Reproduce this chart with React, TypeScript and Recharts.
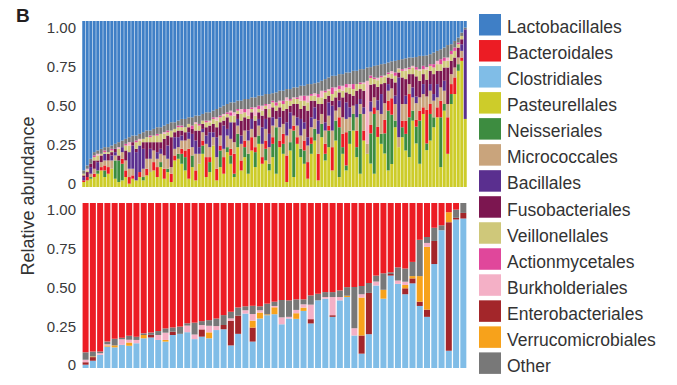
import React from 'react';
import { BarChart, Bar, XAxis, YAxis } from 'recharts';

const FONT = '"Liberation Sans", Arial, Helvetica, sans-serif';

// legend order
const orders = [
  'Lactobacillales', 'Bacteroidales', 'Clostridiales', 'Pasteurellales', 'Neisseriales',
  'Micrococcales', 'Bacillales', 'Fusobacteriales', 'Veillonellales', 'Actionmycetales',
  'Burkholderiales', 'Enterobacteriales', 'Verrucomicrobiales', 'Other',
];

const colors: Record<string, string> = {
  Lactobacillales: '#3f7fc6',
  Bacteroidales: '#ec1c24',
  Clostridiales: '#80bde7',
  Pasteurellales: '#cdcc2a',
  Neisseriales: '#3d8c40',
  Micrococcales: '#c9a47c',
  Bacillales: '#5a2f8f',
  Fusobacteriales: '#7c1650',
  Veillonellales: '#cfc87a',
  Actionmycetales: '#e0479b',
  Burkholderiales: '#f4b0c6',
  Enterobacteriales: '#a3262a',
  Verrucomicrobiales: '#f7a21b',
  Other: '#787878',
};

const yTicks = [0, 0.25, 0.5, 0.75, 1];

// ---- top panel (110 samples) ----
const topPasteurellales = [
  .03, .04, .05, .06, .08, .10, .06, .08, .11, .05,
  .03, .04, .06, .02, .05, .04, .06, .04, .07, .09,
  .10, .06, .12, .05, .09, .03, .16, .17, .14, .10,
  .05, .12, .04, .14, .20, .06, .09, .25, .04, .12,
  .08, .21, .14, .06, .24, .10, .18, .08, .22, .12,
  .26, .14, .16, .10, .18, .08, .24, .20, .03, .22,
  .06, .26, .18, .14, .05, .20, .28, .04, .30, .16,
  .24, .10, .28, .06, .20, .10, .26, .34, .18, .08,
  .28, .20, .14, .08, .30, .26, .20, .10, .14, .36,
  .24, .30, .22, .18, .40, .26, .14, .44, .22, .28,
  .36, .42, .12, .46, .20, .50, .56, .70, .76, .41,
];
const topNeisseriales = [
  0, 0, .01, 0, .02, 0, .04, 0, 0, .11,
  .13, .10, 0, 0, 0, 0, 0, .02, 0, 0,
  0, 0, .03, 0, .02, 0, 0, .03, .06, .08,
  0, .07, 0, 0, .05, 0, .06, 0, 0, .10,
  0, .03, .05, .02, .08, 0, .06, .12, 0, .09,
  .05, 0, .07, .04, .08, .28, 0, .06, 0, .05,
  .28, 0, .05, .08, 0, .06, .07, 0, .08, .04,
  .10, 0, .12, .30, .04, .03, .08, .10, .06, .36,
  0, 0, .18, .36, 0, .06, .12, .36, .30, .04,
  0, .06, .10, .24, .06, .10, .26, 0, .04, .16,
  .06, 0, .30, .04, 0, .06, 0, .04, 0, 0,
];
const topBacteroidales = [
  .01, .02, 0, .02, 0, .02, .03, .04, 0, 0,
  0, .03, .04, .04, .02, 0, .03, 0, .04, 0,
  .05, .06, 0, .06, 0, .05, .03, 0, .03, .04,
  .18, 0, .06, 0, .03, .12, .03, 0, .07, .03,
  .10, 0, .04, .12, 0, .06, .04, 0, .08, .03,
  0, .04, .05, 0, .04, 0, .04, .06, .16, 0,
  .03, .04, 0, .06, .10, .04, 0, .16, 0, .06,
  .03, .14, 0, .06, .08, .20, 0, 0, .10, 0,
  .06, 0, .05, .04, .06, 0, .08, .06, .10, 0,
  0, .04, .08, .14, 0, .04, .06, .04, .20, .06,
  0, .06, .10, 0, .22, .06, .10, 0, .02, 0,
];
const topMicrococcales = [
  0, 0, .02, .03, 0, .03, .03, .04, .05, .03,
  0, .04, .06, .05, .04, 0, 0, .05, .06, .08,
  .07, .05, .05, .08, .06, .04, .04, .04, .05, .06,
  .06, .05, .10, .06, .05, .08, .06, .05, .07, .06,
  .05, .07, .06, .07, .05, .10, .06, .08, .05, .06,
  .06, .08, .07, .10, .07, .05, .08, .06, .12, .08,
  .06, .07, .08, .07, .10, .06, .06, .12, .06, .08,
  .06, .10, .06, .06, .10, .08, .08, .05, .08, .06,
  .10, .06, .08, .06, .10, .12, .10, .06, .06, .10,
  .06, .10, .10, .06, .08, .10, .08, .08, .08, .08,
  .10, .06, .08, .08, .08, .06, .06, .04, .04, 0,
];
const topBacillales = [
  .02, 0, .04, 0, .05, 0, .04, 0, .03, .02,
  0, .03, 0, .10, .14, .17, .16, .12, 0, .06,
  0, .04, .03, 0, .08, 0, .07, .06, .03, 0,
  .04, .08, .08, .04, .02, .05, .09, .03, .12, 0,
  .14, .04, .10, 0, .04, .05, 0, .06, .06, 0,
  .04, .10, .06, .08, .05, 0, .06, 0, .08, .10,
  0, .05, .10, .04, .05, .06, .07, .08, 0, .05,
  .08, .15, 0, .04, 0, .10, .06, 0, .08, .03,
  .04, 0, .06, 0, .06, .12, 0, .04, 0, .05,
  .36, 0, .05, 0, .06, .04, 0, .06, 0, .04,
  .04, .08, 0, .06, 0, 0, 0, 0, .04, .54,
];
const topFusobacteriales = [
  .01, .03, .02, .05, .01, .04, 0, .04, .02, .02,
  .03, 0, .06, 0, .02, .02, 0, .04, .10, .04,
  .05, .06, .04, .10, .06, .18, .03, .04, .03, .05,
  .03, .03, .06, .10, .03, .05, .04, .05, .06, .08,
  .03, .07, 0, .12, .03, .09, .08, .07, .04, .10,
  .04, .07, .06, .10, .06, .05, .06, .08, .08, .04,
  .07, .08, .06, .10, .16, .10, .04, .10, .06, .14,
  .04, .03, .08, .05, .12, .06, .08, .06, .08, .06,
  .10, 0, .10, .08, .08, .06, .12, .04, .06, .08,
  .03, .16, .10, .06, .08, .12, .10, .06, .10, .08,
  .12, .08, .10, .08, .22, .08, .06, .06, .03, 0,
];
const topVeillonellales = [
  .01, .01, 0, .02, .03, .01, .01, .01, .01, 0,
  .04, 0, .03, .04, 0, .04, .03, .02, .03, .03,
  .04, .04, .05, .03, .02, .04, .02, .02, .02, .03,
  .02, 0, .04, .03, .02, .03, .02, .03, .04, .03,
  .03, .02, .04, .04, .02, .04, .03, .02, .02, .03,
  .02, .03, .02, .05, .03, .03, .03, .04, .05, .03,
  .03, .03, .05, .03, .05, .03, .03, .04, .04, .04,
  .03, .04, .04, .02, .04, .03, .04, .04, .04, .03,
  .04, 0, .04, .03, .04, .04, .04, .02, .03, .04,
  .02, .04, .05, .03, .04, .04, .06, .03, .06, .03,
  .04, .04, .04, .04, .04, .04, .04, .02, .02, 0,
];
const topActionmycetales = [
  0, 0, 0, .01, 0, 0, .01, 0, .01, 0,
  0, 0, .01, 0, 0, .01, 0, 0, 0, .01,
  0, .01, 0, 0, .01, 0, 0, .01, .01, 0,
  0, .02, 0, .01, 0, .01, 0, .01, 0, .01,
  0, .01, .02, 0, .01, 0, .02, 0, .01, 0,
  .02, 0, .01, 0, .01, .02, 0, .02, 0, .01,
  0, .01, 0, .03, 0, .01, 0, .02, 0, .01,
  0, .04, 0, .02, 0, .02, 0, .03, 0, .01,
  0, 0, .015, .01, 0, .01, 0, .01, 0, .02,
  0, .01, 0, .01, 0, .015, 0, .02, 0, .01,
  .02, 0, .03, .02, 0, .02, .02, .01, 0, 0,
];
const topBurkholderiales = [
  0, .01, 0, 0, .01, 0, 0, 0, 0, 0,
  .01, 0, 0, .02, 0, 0, .01, 0, 0, 0,
  0, 0, 0, .01, 0, 0, 0, 0, 0, 0,
  0, 0, .01, 0, 0, 0, .01, 0, .02, 0,
  .01, 0, .01, .02, 0, .03, 0, .04, 0, .05,
  0, .03, 0, .03, 0, 0, .01, 0, .02, 0,
  .01, 0, .03, 0, .04, 0, .015, 0, .04, 0,
  .01, 0, .02, 0, .03, 0, .02, 0, 0, 0,
  .01, .38, 0, 0, .015, 0, .005, 0, .015, 0,
  .005, 0, .015, 0, .01, 0, .01, 0, .015, 0,
  0, .02, 0, 0, .02, 0, 0, 0, 0, 0,
];
const topOther = [
  .02, .02, .03, .02, .02, .03, .02, .03, .02, .03,
  .03, .04, .03, .03, .04, .03, .03, .04, .04, .03,
  .04, .04, .04, .04, .04, .05, .04, .03, .04, .05,
  .04, .05, .04, .05, .04, .05, .05, .04, .05, .05,
  .05, .05, .05, .06, .05, .05, .06, .06, .06, .06,
  .06, .06, .06, .06, .045, .06, .06, .06, .05, .06,
  .06, .06, .06, .06, .07, .06, .06, .07, .06, .07,
  .07, .07, .07, .07, .07, .07, .07, .08, .08, .08,
  .08, .08, .05, .07, .075, .07, .07, .06, .06, .07,
  .05, .06, .06, .06, .05, .06, .08, .06, .07, .06,
  .07, .06, .06, .06, .075, .04, .04, .03, .02, .01,
];
const topLactobacillales = [
  .90, .87, .83, .79, .78, .77, .76, .76, .75, .74,
  .73, .72, .71, .70, .69, .69, .68, .67, .66, .66,
  .65, .64, .64, .63, .62, .61, .61, .60, .59, .59,
  .58, .58, .57, .57, .56, .55, .55, .54, .53, .52,
  .51, .50, .49, .49, .48, .48, .47, .47, .46, .46,
  .45, .45, .44, .44, .435, .43, .42, .42, .41, .41,
  .40, .40, .39, .39, .38, .38, .375, .37, .36, .35,
  .34, .33, .33, .32, .32, .31, .31, .30, .30, .29,
  .29, .28, .275, .27, .265, .26, .255, .25, .245, .24,
  .235, .23, .225, .22, .22, .215, .21, .21, .205, .20,
  .19, .18, .17, .16, .145, .14, .12, .10, .07, .04,
];

// ---- bottom panel (53 samples) ----
const botClostridiales = [
  .02, .044, .08, .13, .125, .14, .135, .15, .18, .185,
  .17, .16, .20, .207, .217, .175, .19, .18, .23, .235,
  .137, .207, .33, .16, .30, .32, .326, .265, .30, .298,
  .346, .27, .41, .42, .31, .41, .43, .197, .087, .205,
  .50, .42, .56, .51, .447, .513, .376, .31, .63, .835,
  .104, .90, .906,
];
const botEnterobacteriales = [
  .015, .022, 0, 0, 0, 0, 0, 0, 0, .016,
  0, 0, .02, 0, 0, 0, .044, 0, 0, .026,
  .15, .11, 0, .085, 0, 0, 0, 0, 0, 0,
  0, .026, 0, 0, .01, 0, 0, 0, .11, .25,
  0, 0, .01, 0, .036, .03, .026, .044, .14, 0,
  .78, .01, .034,
];
const botVerrucomicrobiales = [
  0, .004, 0, .007, .012, 0, .02, 0, .02, 0,
  0, .01, 0, 0, 0, 0, 0, .036, 0, 0,
  0, 0, 0, .042, .036, .005, .042, 0, 0, .034,
  .02, 0, 0, 0, 0, 0, .008, 0, .23, 0,
  0, .054, 0, 0, .02, .014, .155, .38, 0, 0,
  .06, 0, 0,
];
const botBurkholderiales = [
  .015, 0, .01, .007, 0, .034, .016, .02, 0, 0,
  .03, .044, 0, 0, .04, .028, .026, .04, .024, 0,
  .014, 0, .02, .04, .014, 0, .008, .042, .01, .02,
  .02, .088, 0, .01, .11, .02, 0, .044, .02, 0,
  .024, 0, 0, .02, .02, 0, 0, .024, 0, 0,
  0, 0, 0,
];
const botOther = [
  .045, .03, .01, .016, .04, .01, .024, .02, .01, .014,
  .024, .026, .026, .044, .014, .072, .024, .034, .046, .06,
  .04, .05, .024, .05, .024, .065, .026, .105, .10, .064,
  .03, .056, .04, .03, .03, .04, .052, .25, .05, .06,
  .036, .10, .01, .08, .08, .086, .22, .036, .08, .03,
  0, .05, .06,
];
const botBacteroidales = [
  .905, .90, .90, .84, .823, .816, .805, .81, .79, .785,
  .776, .76, .754, .749, .729, .725, .716, .71, .70, .68,
  .66, .633, .626, .623, .626, .61, .598, .588, .59, .584,
  .584, .56, .55, .54, .54, .53, .51, .509, .503, .485,
  .44, .426, .42, .39, .397, .357, .223, .206, .15, .135,
  .056, .04, 0,
];

const topData = topLactobacillales.map((v, i) => ({
  sample: `T${i + 1}`,
  Pasteurellales: topPasteurellales[i],
  Neisseriales: topNeisseriales[i],
  Bacteroidales: topBacteroidales[i],
  Micrococcales: topMicrococcales[i],
  Bacillales: topBacillales[i],
  Fusobacteriales: topFusobacteriales[i],
  Veillonellales: topVeillonellales[i],
  Actionmycetales: topActionmycetales[i],
  Burkholderiales: topBurkholderiales[i],
  Other: topOther[i],
  Lactobacillales: v,
}));

const botData = botBacteroidales.map((v, i) => ({
  sample: `B${i + 1}`,
  Clostridiales: botClostridiales[i],
  Enterobacteriales: botEnterobacteriales[i],
  Verrucomicrobiales: botVerrucomicrobiales[i],
  Burkholderiales: botBurkholderiales[i],
  Other: botOther[i],
  Bacteroidales: v,
}));

// stacking order, bottom to top
const topStack = [
  'Pasteurellales', 'Neisseriales', 'Bacteroidales', 'Micrococcales', 'Bacillales',
  'Fusobacteriales', 'Veillonellales', 'Actionmycetales', 'Burkholderiales', 'Other', 'Lactobacillales',
];
const botStack = [
  'Clostridiales', 'Enterobacteriales', 'Verrucomicrobiales', 'Burkholderiales', 'Other', 'Bacteroidales',
];

// the tick labels in the figure sit on a slightly tighter scale than the bars
const PropTick = (props: any) => {
  const { x, y, payload } = props;
  const v = payload.value as number;
  return (
    <text x={x} y={y - 3 + 10 * v} dy="0.36em" textAnchor="end" fontSize={15} fill="#3a3a3a" fontFamily={FONT}>
      {v === 0 ? '0' : v.toFixed(2)}
    </text>
  );
};

const Panel = ({ data, stack, height, margin }: any) => (
  <BarChart width={470} height={height} data={data} margin={margin} stackOffset="expand" barCategoryGap={data.length > 60 ? 0.25 : 0.6}>
    <XAxis dataKey="sample" hide />
    <YAxis
      width={82}
      domain={[0, 1]}
      ticks={yTicks}
      interval={0}
      tickLine={false}
      axisLine={false}
      tickSize={4}
      tickMargin={2}
      tick={<PropTick />}
    />
    {stack.map((k: string) => (
      <Bar key={k} dataKey={k} stackId="a" fill={colors[k]} isAnimationActive={false} />
    ))}
  </BarChart>
);

const App: React.FC = () => {
  return (
    <div style={{ position: 'absolute', left: 0, top: 0, width: 677, height: 385, background: '#fff', fontFamily: FONT }}>
      <div style={{ position: 'absolute', left: 0, top: 0 }}>
        <Panel data={topData} stack={topStack} height={195} margin={{ top: 21, right: 3, bottom: 8, left: 0 }} />
      </div>
      <div style={{ position: 'absolute', left: 0, top: 195 }}>
        <Panel data={botData} stack={botStack} height={185} margin={{ top: 8, right: 3, bottom: 12, left: 0 }} />
      </div>
      <svg width={677} height={385} style={{ position: 'absolute', left: 0, top: 0, pointerEvents: 'none' }}>
        <text x={16} y={22} fontSize={19} fontWeight="bold" fill="#231f20" fontFamily={FONT}>B</text>
        <text
          transform="translate(34,196) rotate(-90)"
          textAnchor="middle"
          fontSize={18}
          fill="#333"
          fontFamily={FONT}
        >
          Relative abundance
        </text>
        {orders.map((name, i) => (
          <g key={name}>
            <rect x={479} y={14 + i * 26.03} width={22} height={21.5} fill={colors[name]} />
            <text x={507} y={33.3 + i * 26.03} fontSize={17.5} fill="#333" fontFamily={FONT}>{name}</text>
          </g>
        ))}
      </svg>
    </div>
  );
};

export default App;
